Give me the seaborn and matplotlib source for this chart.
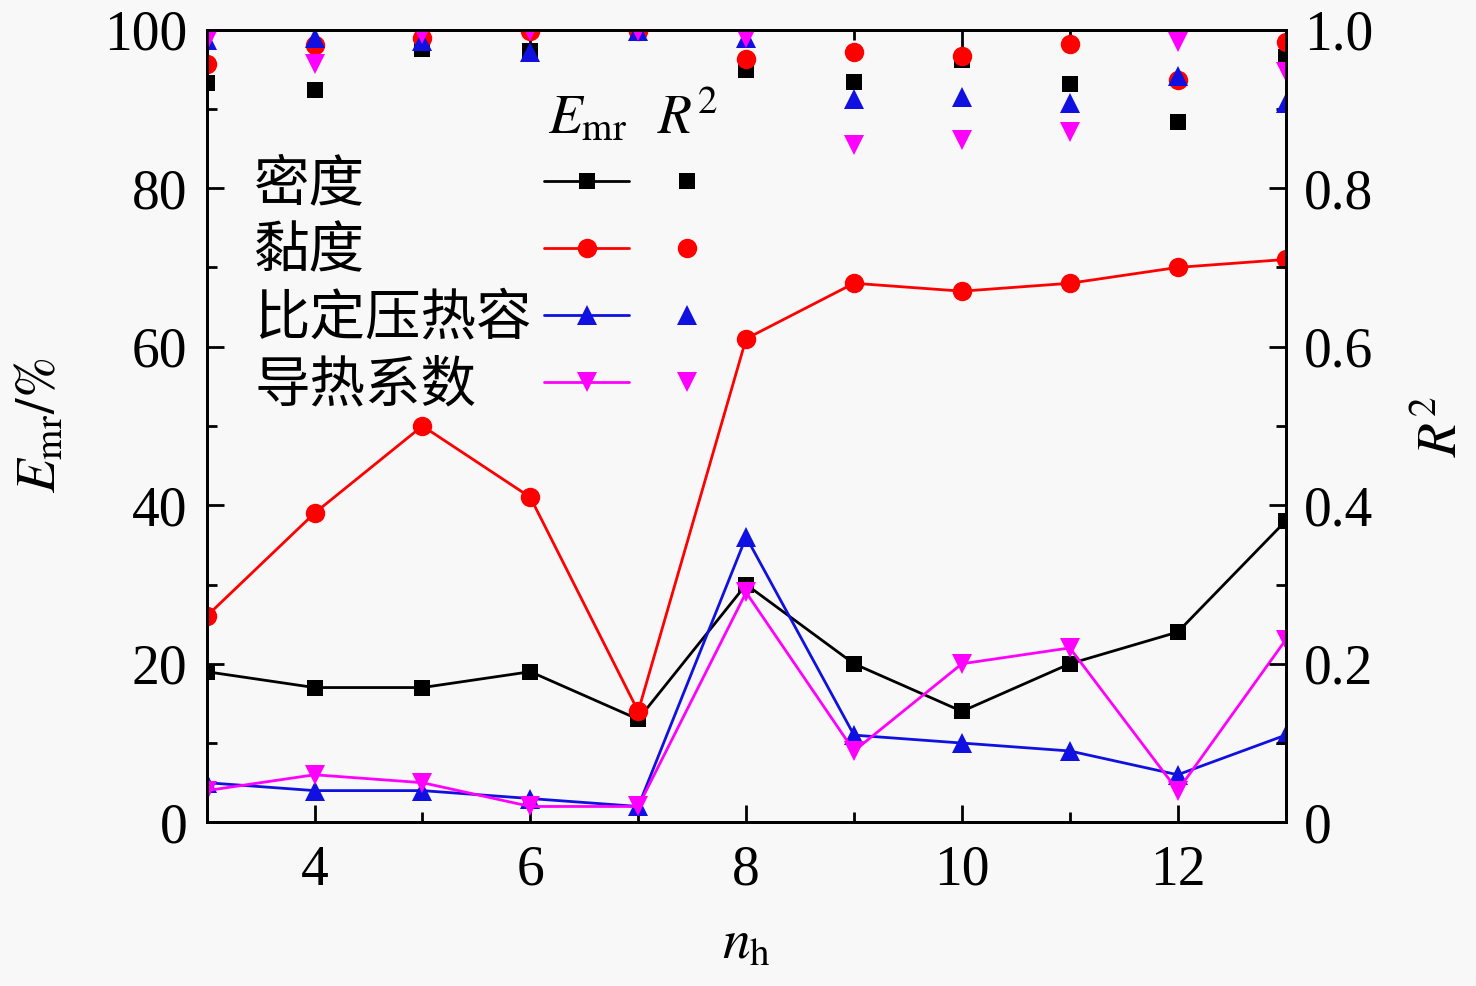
import numpy as np
import matplotlib
matplotlib.use("Agg")
import matplotlib.pyplot as plt
import seaborn as sns
from matplotlib.lines import Line2D
from matplotlib.ticker import MultipleLocator

# data
nh = [3, 4, 5, 6, 7, 8, 9, 10, 11, 12, 13]
names = ["密度", "黏度", "比定压热容", "导热系数"]
emr_density = [19, 17, 17, 19, 13, 30, 20, 14, 20, 24, 38]
emr_viscosity = [26, 39, 50, 41, 14, 61, 68, 67, 68, 70, 71]
emr_cp = [5, 4, 4, 3, 2, 36, 11, 10, 9, 6, 11]
emr_conductivity = [4, 6, 5, 2, 2, 29, 9, 20, 22, 4, 23]
r2_density = [0.933, 0.924, 0.975, 0.973, 0.997, 0.949, 0.934, 0.962, 0.931, 0.883, 0.965]
r2_viscosity = [0.956, 0.981, 0.990, 0.998, 0.998, 0.963, 0.972, 0.967, 0.982, 0.937, 0.984]
r2_cp = [0.987, 0.990, 0.985, 0.972, 0.998, 0.990, 0.912, 0.915, 0.908, 0.942, 0.908]
r2_conductivity = [0.985, 0.957, 0.995, 0.998, 0.998, 0.990, 0.855, 0.861, 0.871, 0.984, 0.947]

emr_all = [emr_density, emr_viscosity, emr_cp, emr_conductivity]
r2_all = [r2_density, r2_viscosity, r2_cp, r2_conductivity]
colors = ["#000000", "#ff0000", "#1010e0", "#ff00ff"]
markers = ["s", "o", "^", "v"]
msizes = [11, 14, 14, 14]

sns.set_style("ticks")
plt.rcParams["font.family"] = ["Liberation Serif", "Noto Sans CJK SC"]
plt.rcParams["mathtext.fontset"] = "stix"
plt.rcParams["axes.linewidth"] = 2
for k in ["text.color", "axes.labelcolor", "xtick.color", "ytick.color", "axes.edgecolor"]:
    plt.rcParams[k] = "black"

bg = "#f8f8f8"
fig = plt.figure(figsize=(14.76, 9.86), dpi=100, facecolor=bg)
ax = fig.add_axes([0.140, 0.166, 0.731, 0.804])
ax.set_facecolor(bg)
ax2 = ax.twinx()

for y, c, m, ms in zip(emr_all, colors, markers, msizes):
    sns.lineplot(x=nh, y=y, color=c, marker=m, markersize=ms, markeredgewidth=0,
                 linewidth=2.0, ax=ax)
for y, c, m, ms in zip(r2_all, colors, markers, msizes):
    ax2.plot(nh, y, linestyle="none", color=c, marker=m, markersize=ms, markeredgewidth=0)

ax.set_xlim(3, 13)
ax.set_ylim(0, 100)
ax2.set_ylim(0, 1)
ax.xaxis.set_minor_locator(MultipleLocator(1))
ax.yaxis.set_major_locator(MultipleLocator(20))
ax.yaxis.set_minor_locator(MultipleLocator(10))
ax2.yaxis.set_minor_locator(MultipleLocator(0.1))
ax.set_xticks([4, 6, 8, 10, 12])
ax2.set_yticks([0, 0.2, 0.4, 0.6, 0.8, 1.0])
ax2.set_yticklabels(["0", "0.2", "0.4", "0.6", "0.8", "1.0"])

for a in (ax, ax2):
    a.tick_params(which="major", direction="in", length=12, width=2, labelsize=40)
    a.tick_params(which="minor", direction="in", length=7, width=2)
ax.tick_params(axis="x", which="both", top=True, pad=16)
ax.tick_params(axis="y", pad=14)
ax2.tick_params(axis="y", pad=13)

ax.set_xlabel(r"$n_{\mathrm{h}}$", fontsize=40, labelpad=16)
ax.set_ylabel(r"$E_{\mathrm{mr}}/\%$", fontsize=40, labelpad=26)
ax2.set_ylabel(r"$R^2$", fontsize=40, labelpad=32)

# legend: Chinese labels | E_mr (line+marker) column | R^2 (marker only) column
h_none = [Line2D([], [], linestyle="none") for _ in names]
h_line = [Line2D([], [], color=c, marker=m, markersize=ms, markeredgewidth=0, linewidth=2.0)
          for c, m, ms in zip(colors, markers, msizes)]
h_mark = [Line2D([], [], color=c, marker=m, markersize=ms, markeredgewidth=0, linestyle="none")
          for c, m, ms in zip(colors, markers, msizes)]
common = dict(loc="upper left", frameon=False, fontsize=40, labelspacing=0.27,
              borderpad=0, borderaxespad=0)
top = 0.835
leg1 = ax.legend(h_none, names, bbox_to_anchor=(0.044, top), handlelength=0,
                 handletextpad=0, **common)
ax.add_artist(leg1)
leg2 = ax.legend(h_line, names, bbox_to_anchor=(0.313, top), handlelength=1.53,
                 handletextpad=0, **common)
ax.add_artist(leg2)
leg3 = ax.legend(h_mark, names, bbox_to_anchor=(0.422, top), handlelength=0.9,
                 handletextpad=0, **common)
for lg in (leg2, leg3):
    for t in lg.get_texts():
        t.set_alpha(0)
ax.text(0.353, 0.886, r"$E_{\mathrm{mr}}$", transform=ax.transAxes, fontsize=40,
        ha="center", va="center")
ax.text(0.446, 0.886, r"$R^2$", transform=ax.transAxes, fontsize=40,
        ha="center", va="center")

fig.savefig("out.png", dpi=100, facecolor=bg)
